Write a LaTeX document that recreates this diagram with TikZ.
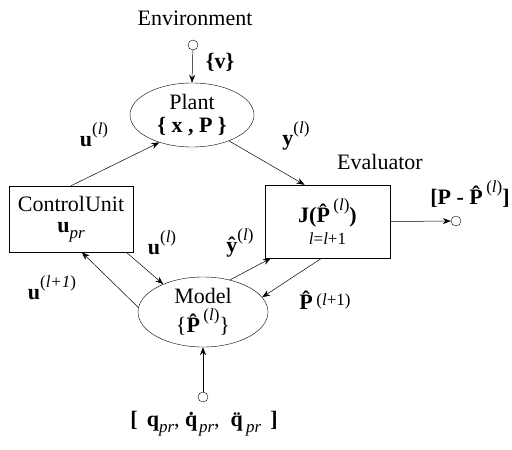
\documentclass[tikz,border=0pt]{standalone}
\usepackage{fontspec}
\setmainfont{Liberation Serif}
\usetikzlibrary{shapes.geometric,arrows.meta}

\newcommand{\upr}[1]{\raisebox{1.2ex}{\fontsize{17}{17}\selectfont(\textit{#1})}}
\newcommand{\dnpr}{\raisebox{-0.6ex}{\fontsize{17}{17}\selectfont\textit{pr}}}

\begin{document}
\begin{tikzpicture}[x=1pt, y=-1pt,
    font=\fontsize{22}{25}\selectfont,
    block/.style={draw, rectangle, align=center, inner sep=0pt},
    oval/.style={draw, ellipse, align=center, inner sep=0pt},
    port/.style={draw, circle, minimum size=10pt, inner sep=0pt},
    flow/.style={-{Stealth[length=8pt,width=6pt]}, line width=0.5pt}]

        \useasboundingbox (0,0) rectangle (512,450);

        % Main blocks
        \node[oval, minimum width=124pt, minimum height=64pt] (plant) at (192,115) {Plant\\[-2pt]\textbf{\{ x , P \}}};
        \node[oval, minimum width=130pt, minimum height=70pt] (model) at (203,312) {Model\\[4pt]\{\textbf{\^{P}}\upr{l}\}};
        \node[block, minimum width=124pt, minimum height=66pt] (ctrl) at (71,219) {ControlUnit\\[-4pt]\textbf{u}\dnpr};
        \node[block, minimum width=125pt, minimum height=73pt] (eval) at (327.5,221.5) {\textbf{J(\^{P}}\upr{l}\textbf{)}\\[-3pt]{\fontsize{17}{17}\selectfont\textit{l}=\textit{l}+1}};

        % Ports
        \node[port] (envpt) at (193,45) {};
        \node[port] (outpt) at (456,221) {};
        \node[port] (inpt) at (203,397) {};

        % Texts
        \node (envtxt) at (195,18) {Environment};
        \node (evaltxt) at (380,162) {Evaluator};
        \node (outtxt) at (470,194) {\textbf{[P - \^{P}}\upr{l}\textbf{]}};
        \node (intxt) at (204,424) {\textbf{[\ \,q}\dnpr, \textbf{\.{q}}\dnpr, \ \textbf{\"{q}}\dnpr\textbf{\ \,]}};

        % Signal labels
        \node (vtxt) at (220,62) {\textbf{\{v\}}};
        \node (u1txt) at (94,135) {\textbf{u}\upr{l}};
        \node (y1txt) at (296,136) {\textbf{y}\upr{l}};
        \node (u2txt) at (162,243) {\textbf{u}\upr{l}};
        \node (u3txt) at (52,288) {\textbf{u}\upr{l+1}};
        \node (yhtxt) at (240,243) {\textbf{\^{y}}\upr{l}};
        \node (phtxt) at (325,300) {\textbf{\^{P}}\raisebox{0.4ex}{\fontsize{17}{17}\selectfont(\textit{l}+1)}};

        % Draw inputs and outputs
        \draw[flow] (envpt) -- (plant.north);
        \draw[flow] (inpt) -- (model.south);
        \draw[flow] (eval.east) -- (outpt);

        % Draw edges around the loop
        \draw[flow] (ctrl.north) -- (plant.220);
        \draw[flow] (plant.-35) -- (eval.122);
        \draw[flow] (ctrl.-31) -- (model.145);
        \draw[flow] (model.176) -- (ctrl.-72);
        \draw[flow] (model.50) -- (eval.213);
        \draw[flow] (eval.261) -- (model.14);

\end{tikzpicture}
\end{document}
